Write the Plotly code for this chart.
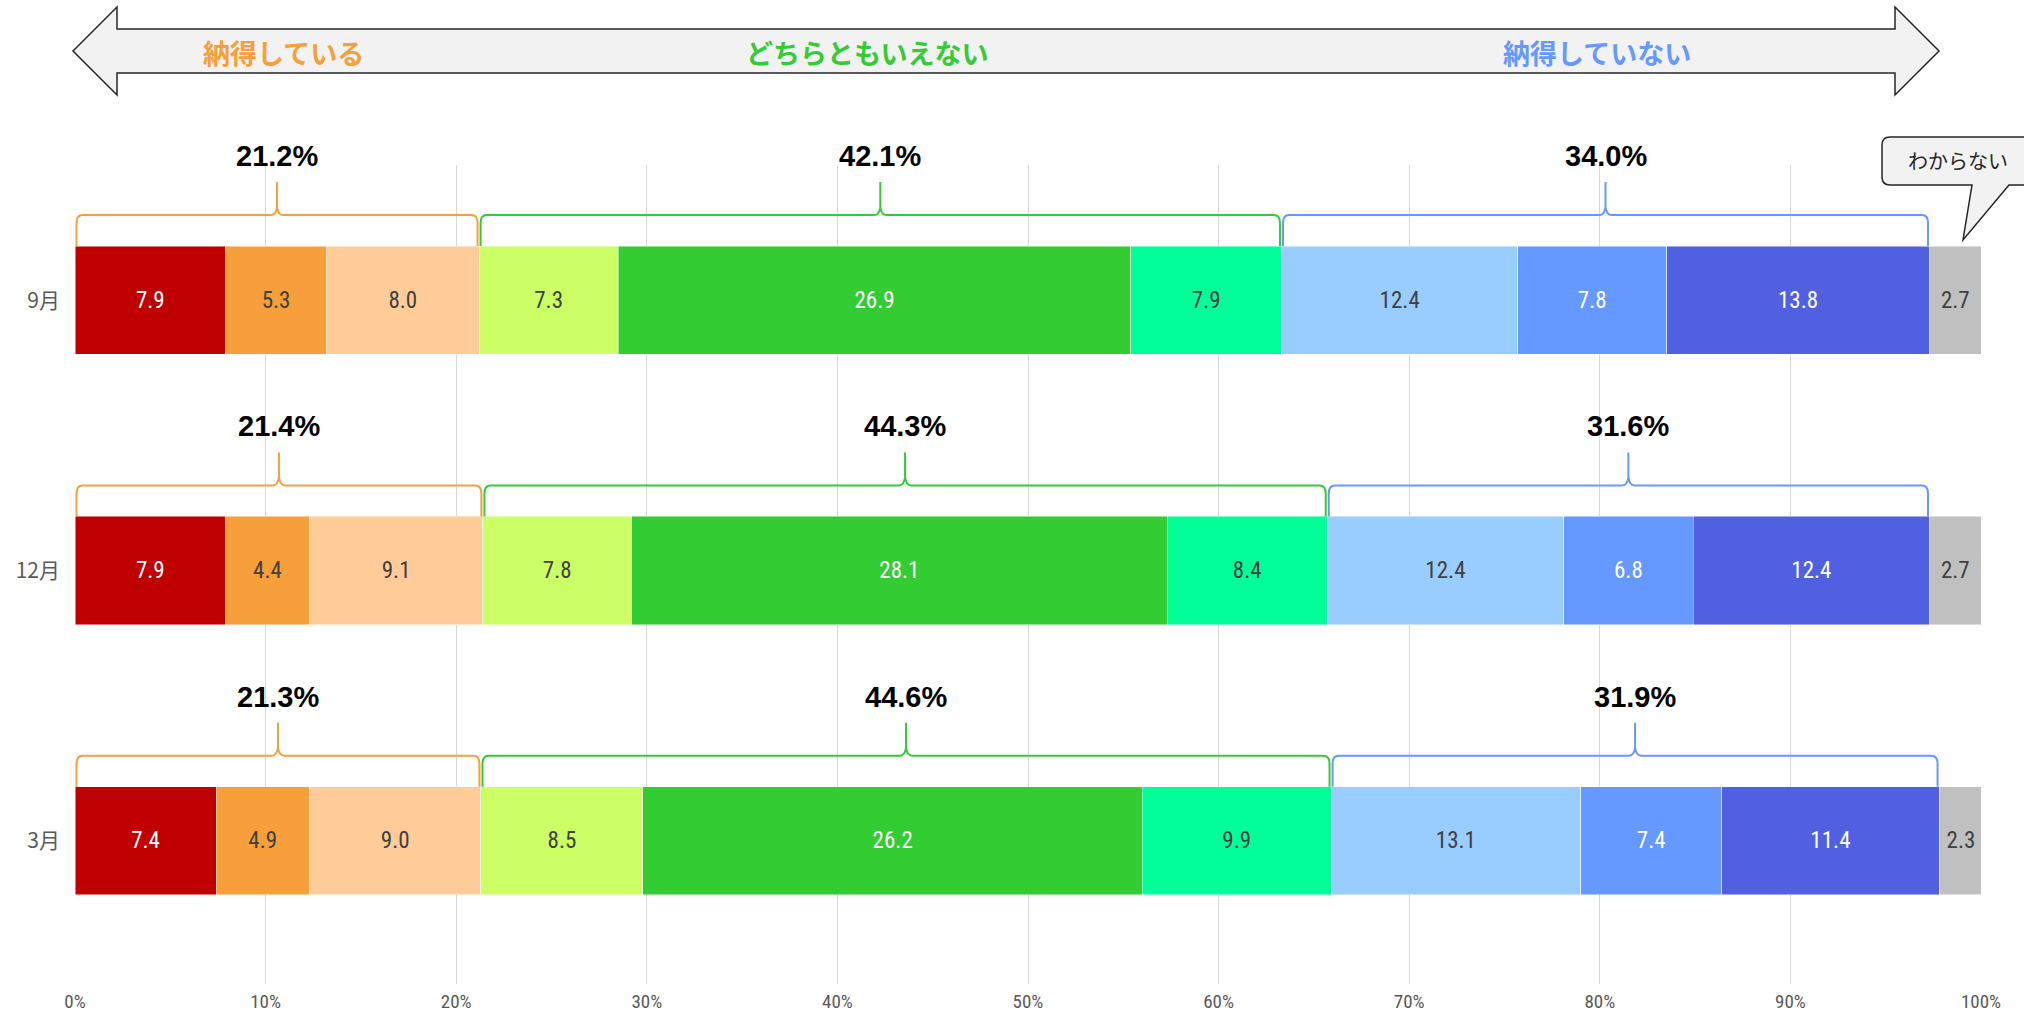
import plotly.graph_objects as go

# ---------------- data ----------------
months = ["9月", "12月", "3月"]
segment_names = ["納得している1", "納得している2", "納得している3",
                 "どちらとも1", "どちらとも2", "どちらとも3",
                 "納得していない1", "納得していない2", "納得していない3",
                 "わからない"]
seg_9 = [7.9, 5.3, 8.0, 7.3, 26.9, 7.9, 12.4, 7.8, 13.8, 2.7]
seg_12 = [7.9, 4.4, 9.1, 7.8, 28.1, 8.4, 12.4, 6.8, 12.4, 2.7]
seg_3 = [7.4, 4.9, 9.0, 8.5, 26.2, 9.9, 13.1, 7.4, 11.4, 2.3]
rows = [seg_9, seg_12, seg_3]

seg_colors = ["#C00000", "#F79F3A", "#FFCC99", "#CCFF66", "#33CC33",
              "#00FF99", "#99CCFF", "#6699FF", "#5060E0", "#C0C0C0"]
seg_text_colors = ["#FFFFFF", "#404040", "#404040", "#404040", "#FFFFFF",
                   "#404040", "#404040", "#FFFFFF", "#FFFFFF", "#404040"]

group_labels = ["納得している", "どちらともいえない", "納得していない"]
group_colors = ["#F79F3A", "#33CC33", "#6699FF"]
group_members = [[0, 1, 2], [3, 4, 5], [6, 7, 8]]
x_ticks = list(range(0, 101, 10))
x_tick_labels = [f"{v}%" for v in x_ticks]
dk_label = "わからない"

# ---------------- layout geometry ----------------
W, H = 2024, 1014
ML, MR, MT, MB = 75, 43, 165, 30
PW, PH = W - ML - MR, H - MT - MB
Y_RANGE = [2.53, -0.5]
PX_Y = abs(Y_RANGE[0] - Y_RANGE[1]) / PH   # data units per pixel (y)
PX_X = 100.0 / PW                          # data units per pixel (x)
BAR_W = 0.4


def pxp(X):
    return (X - ML) / PW


def pyp(Y):
    return (H - MB - Y) / PH


def y_to_px(yv):
    return MT + (yv - Y_RANGE[1]) / PX_Y


NUM_FONT = "Liberation Sans Narrow, Roboto Condensed, Roboto, sans-serif"
JP_FONT = "Noto Sans CJK JP, sans-serif"

fig = go.Figure()
for k in range(len(segment_names)):
    vals = [r[k] for r in rows]
    fig.add_trace(go.Bar(
        y=months, x=vals, orientation="h", name=segment_names[k],
        width=BAR_W,
        marker=dict(color=seg_colors[k], line=dict(color="rgba(255,255,255,0.6)", width=0.8)),
        text=[f"{v:.1f}" for v in vals], textposition="inside",
        insidetextanchor="middle", textangle=0,
        textfont=dict(family=NUM_FONT, size=23, color=seg_text_colors[k]),
        hoverinfo="skip", showlegend=False,
    ))

shapes = []
annotations = []

# ---- curly braces above each group ----
dx = 6 * PX_X
r = 8 * PX_Y
for i, row in enumerate(rows):
    cum = [0]
    for v in row:
        cum.append(cum[-1] + v)
    yb = i - BAR_W / 2
    yl = yb - 31 * PX_Y
    yp = yb - 64 * PX_Y
    for g, mem in enumerate(group_members):
        x0 = cum[mem[0]] + 0.08
        x1 = cum[mem[-1] + 1] - 0.08
        xm = (x0 + x1) / 2
        total = round(sum(row[m] for m in mem), 1)
        path = (f"M {x0},{yb} L {x0},{yl + r} Q {x0},{yl} {x0 + dx},{yl} "
                f"L {xm - dx},{yl} Q {xm - 1.2 * PX_X},{yl} {xm},{yl - r} L {xm},{yp} "
                f"L {xm},{yl - r} Q {xm + 1.2 * PX_X},{yl} {xm + dx},{yl} "
                f"L {x1 - dx},{yl} Q {x1},{yl} {x1},{yl + r} L {x1},{yb}")
        shapes.append(dict(type="path", xref="x", yref="y", path=path,
                           line=dict(color=group_colors[g], width=2)))
        label_py = y_to_px(yb) - 90
        annotations.append(dict(x=xm, y=pyp(label_py), xref="x", yref="paper",
                                xanchor="center", yanchor="middle",
                                text=f"<b>{total:.1f}%</b>", showarrow=False,
                                font=dict(family="Liberation Sans, Arial, sans-serif",
                                          size=29, color="#000000")))

# ---- top double arrow ----
pts = [(73, 51), (117, 7), (117, 29), (1895, 29), (1895, 7), (1939, 51),
       (1895, 95), (1895, 73), (117, 73), (117, 95)]
arrow_path = "M " + " L ".join(f"{pxp(x)},{pyp(y)}" for x, y in pts) + " Z"
shapes.append(dict(type="path", xref="paper", yref="paper", path=arrow_path,
                   fillcolor="#F2F2F2", line=dict(color="#262626", width=1.5)))
for lbl, col, cx in zip(group_labels, group_colors, [283, 867, 1597]):
    annotations.append(dict(x=pxp(cx), y=pyp(52), xref="paper", yref="paper",
                            xanchor="center", yanchor="middle",
                            text=f"<b>{lbl}</b>", showarrow=False,
                            font=dict(family=JP_FONT, size=27, color=col)))

# ---- callout "わからない" ----
c = [(1890, 137), (2040, 137), (2040, 185), (2009, 185), (1963, 240),
     (1972, 185), (1890, 185)]
cp = "M " + " L ".join(f"{pxp(x)},{pyp(y)}" for x, y in c)
cp += f" Q {pxp(1882)},{pyp(185)} {pxp(1882)},{pyp(177)} L {pxp(1882)},{pyp(145)}"
cp += f" Q {pxp(1882)},{pyp(137)} {pxp(1890)},{pyp(137)} Z"
shapes.append(dict(type="path", xref="paper", yref="paper", path=cp,
                   fillcolor="#F2F2F2", line=dict(color="#262626", width=1.5)))
annotations.append(dict(x=pxp(1958), y=pyp(160), xref="paper", yref="paper",
                        xanchor="center", yanchor="middle",
                        text=dk_label, showarrow=False,
                        font=dict(family=JP_FONT, size=20, color="#262626")))

fig.update_layout(
    width=W, height=H, barmode="stack", bargap=0.6,
    plot_bgcolor="#FFFFFF", paper_bgcolor="#FFFFFF",
    margin=dict(l=ML, r=MR, t=MT, b=MB, autoexpand=False),
    shapes=shapes, annotations=annotations, hovermode=False,
    xaxis=dict(range=[0, 100], tickvals=x_ticks, ticktext=x_tick_labels,
               showgrid=True, gridcolor="#D9D9D9", gridwidth=1.3,
               zeroline=False, showline=False, ticks="",
               ticklabelstandoff=4,
               tickfont=dict(family=NUM_FONT, size=19, color="#595959")),
    yaxis=dict(type="category", categoryorder="array", categoryarray=months,
               range=Y_RANGE, showgrid=False, zeroline=False, showline=False,
               ticks="", ticklabelstandoff=14,
               tickfont=dict(family=JP_FONT, size=21, color="#595959")),
)

fig.write_html("out.html", config={"displayModeBar": False},
               post_script="document.body.style.margin='0';document.body.style.overflow='hidden';")
